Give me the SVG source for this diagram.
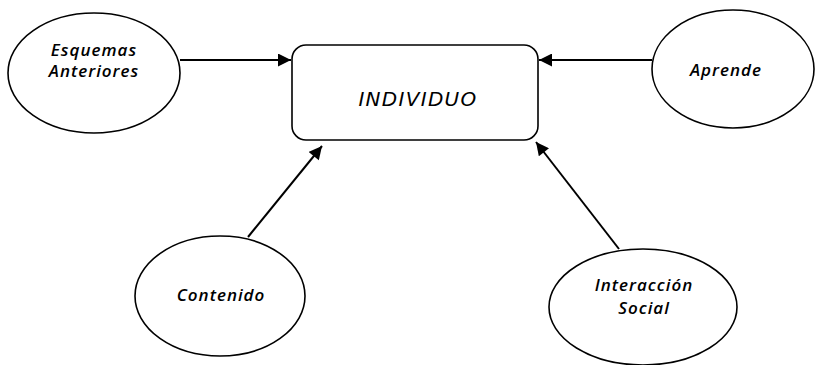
<svg xmlns="http://www.w3.org/2000/svg" width="815" height="365" viewBox="0 0 815 365">
<style>
.node ellipse, .node rect { fill: #fff; stroke: #000; stroke-width: 1.6; }
.lbl { font-family: "Open Sans", "DejaVu Sans", sans-serif; font-style: italic; font-weight: 600; font-size: 17px; letter-spacing: 1px; fill: #000; text-anchor: middle; }
.main { font-family: "DejaVu Sans", "Open Sans", sans-serif; font-style: italic; font-size: 20px; letter-spacing: 1.3px; fill: #000; text-anchor: middle; }
.conn line { stroke: #000; stroke-width: 2; marker-end: url(#ah); }
</style>
<defs>
<marker id="ah" viewBox="0 0 10 10" refX="10" refY="5" markerWidth="7" markerHeight="6.5" markerUnits="strokeWidth" orient="auto">
<path d="M0,0 L10,5 L0,10 z" fill="#000"/>
</marker>
</defs>
<g id="connectors" class="conn">
<line x1="180" y1="60" x2="291" y2="60"/>
<line x1="652" y1="60" x2="539" y2="60"/>
<line x1="248" y1="237" x2="322" y2="146"/>
<line x1="619" y1="249" x2="536" y2="142"/>
</g>
<g id="individuo" class="node">
<rect x="292" y="45" width="246" height="95" rx="14" ry="14"/>
<text class="main" x="418" y="106">INDIVIDUO</text>
</g>
<g id="esquemas" class="node">
<ellipse cx="94" cy="73" rx="86" ry="60"/>
<text class="lbl" x="94" y="56">Esquemas</text>
<text class="lbl" x="94" y="77">Anteriores</text>
</g>
<g id="aprende" class="node">
<ellipse cx="733" cy="69" rx="81" ry="59"/>
<text class="lbl" x="726" y="76">Aprende</text>
</g>
<g id="contenido" class="node">
<ellipse cx="220" cy="296" rx="85" ry="60"/>
<text class="lbl" x="221" y="301">Contenido</text>
</g>
<g id="interaccion" class="node">
<ellipse cx="643" cy="307" rx="94" ry="58"/>
<text class="lbl" x="644" y="291">Interacción</text>
<text class="lbl" x="644" y="314">Social</text>
</g>
</svg>
